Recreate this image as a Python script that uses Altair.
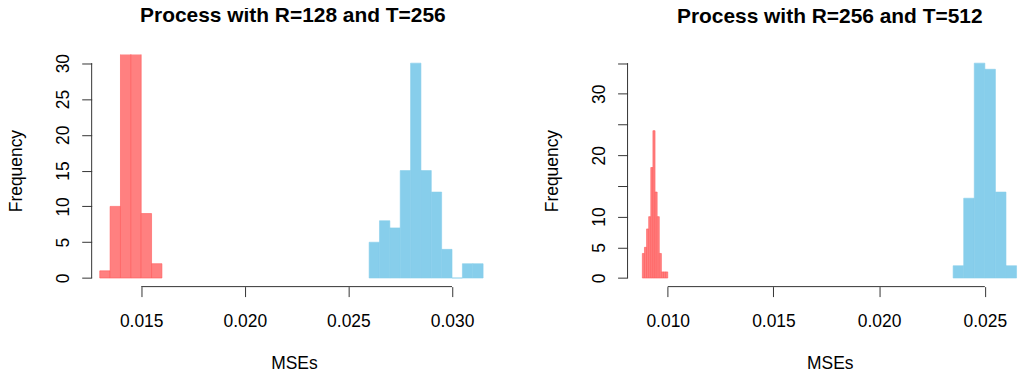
import altair as alt
import pandas as pd

# ---------------- data ----------------
# Panel 1: Process with R=128 and T=256
p1_red_lo = [0.0130, 0.0135, 0.0140, 0.0145, 0.0150, 0.0155]
p1_red_hi = [0.0135, 0.0140, 0.0145, 0.0150, 0.0155, 0.0160]
p1_red_n = [1, 10, 40, 38, 9, 2]
p1_blue_lo = [0.0260, 0.0265, 0.0270, 0.0275, 0.0280, 0.0285, 0.0290, 0.0295, 0.0300, 0.0305, 0.0310]
p1_blue_hi = [0.0265, 0.0270, 0.0275, 0.0280, 0.0285, 0.0290, 0.0295, 0.0300, 0.0305, 0.0310, 0.0315]
p1_blue_n = [5, 8, 7, 15, 30, 15, 12, 4, 0, 2, 2]
p1_xticks = [0.015, 0.020, 0.025, 0.030]
p1_yticks = [0, 5, 10, 15, 20, 25, 30]
p1_yhidden = []

# Panel 2: Process with R=256 and T=512
p2_red_lo = [0.0088, 0.0089, 0.0090, 0.0091, 0.0092, 0.0093, 0.0094, 0.0095, 0.0096, 0.0097, 0.0098, 0.0099]
p2_red_hi = [0.0089, 0.0090, 0.0091, 0.0092, 0.0093, 0.0094, 0.0095, 0.0096, 0.0097, 0.0098, 0.0099, 0.0100]
p2_red_n = [4, 5, 8, 10, 18, 24, 14, 10, 4, 1, 1, 1]
p2_blue_lo = [0.0235, 0.0240, 0.0245, 0.0250, 0.0255, 0.0260]
p2_blue_hi = [0.0240, 0.0245, 0.0250, 0.0255, 0.0260, 0.0265]
p2_blue_n = [2, 13, 35, 34, 14, 2]
p2_xticks = [0.010, 0.015, 0.020, 0.025]
p2_yticks = [0, 5, 10, 15, 20, 25, 30, 35]
p2_yhidden = [15, 25, 35]

FONT = "Liberation Sans"
AXC = "#333333"
RED = "#FF8080"
RED_EDGE = "#FF5A5A"
BLUE = "#87CEEB"


def panel(title, red_lo, red_hi, red_n, blue_lo, blue_hi, blue_n,
          xdom, ydom, xticks, yticks, yhidden, width, height, title_dx):
    df = pd.DataFrame({
        "lo": red_lo + blue_lo,
        "hi": red_hi + blue_hi,
        "n": red_n + blue_n,
        "grp": ["red"] * len(red_lo) + ["blue"] * len(blue_lo),
    })
    xs = alt.Scale(domain=xdom, nice=False, zero=False)
    ys = alt.Scale(domain=ydom, nice=False, zero=False)
    if yhidden:
        cond = " || ".join(f"datum.value == {v}" for v in yhidden)
        lexpr = f"({cond}) ? '' : datum.label"
    else:
        lexpr = "datum.label"
    bars = alt.Chart(df).mark_rect(clip=True, strokeWidth=0.6).encode(
        x=alt.X("lo:Q", scale=xs, axis=alt.Axis(
            values=xticks, format=".3f", domain=False, grid=False,
            tickSize=10, tickColor=AXC, tickWidth=1, labelPadding=16,
            labelFontSize=17.5, labelColor="black", labelFont=FONT,
            title="MSEs", titleFont=FONT, titleFontSize=17.5, titleFontWeight="normal",
            titleColor="black", titleX=203, titleY=82,
            titleBaseline="alphabetic", titleAlign="center")),
        x2="hi:Q",
        y=alt.Y("n:Q", scale=ys, axis=alt.Axis(
            values=yticks, format="d", domain=False, grid=False,
            tickSize=10, tickColor=AXC, tickWidth=1, labelPadding=13,
            labelAngle=-90, labelAlign="center", labelBaseline="alphabetic",
            labelExpr=lexpr, labelFontSize=17.5, labelColor="black", labelFont=FONT,
            labelOverlap=False,
            title="Frequency", titleFont=FONT, titleFontSize=17.5, titleFontWeight="normal",
            titleColor="black", titleX=-70, titleY=height / 2, titleAngle=-90,
            titleBaseline="alphabetic", titleAlign="center")),
        y2=alt.datum(0),
        color=alt.Color("grp:N", scale=alt.Scale(domain=["red", "blue"], range=[RED, BLUE]), legend=None),
        stroke=alt.Stroke("grp:N", scale=alt.Scale(domain=["red", "blue"], range=[RED_EDGE, BLUE]), legend=None),
    )
    xline = alt.Chart(pd.DataFrame({"a": [xticks[0]], "b": [xticks[-1]]})).mark_rule(
        color=AXC, strokeWidth=1).encode(
        x=alt.X("a:Q", scale=xs, axis=None), x2="b:Q", y=alt.value(height))
    yline = alt.Chart(pd.DataFrame({"a": [yticks[0]], "b": [yticks[-1]]})).mark_rule(
        color=AXC, strokeWidth=1).encode(
        y=alt.Y("a:Q", scale=ys, axis=None), y2="b:Q", x=alt.value(0))
    return alt.layer(bars, xline, yline).resolve_axis(
        x="independent", y="independent"
    ).properties(
        width=width, height=height,
        title=alt.TitleParams(title, font=FONT, fontSize=21, fontWeight="bold",
                              color="black", anchor="middle", offset=27.4, dx=title_dx),
    )


H = 233
left = panel("Process with R=128 and T=256", p1_red_lo, p1_red_hi, p1_red_n,
             p1_blue_lo, p1_blue_hi, p1_blue_n,
             [0.01261, 0.03203], [-1.2, 31.2], p1_xticks, p1_yticks, p1_yhidden,
             404, H, 0)
right = panel("Process with R=256 and T=512", p2_red_lo, p2_red_hi, p2_red_n,
              p2_blue_lo, p2_blue_hi, p2_blue_n,
              [0.0081, 0.02671], [-1.4, 36.4], p2_xticks, p2_yticks, p2_yhidden,
              395, H, 5.5)

chart = alt.hconcat(left, right, spacing=50).properties(
    padding={"left": 0, "top": -4, "right": 0, "bottom": 0}
).configure(font=FONT).configure_view(stroke="transparent", strokeWidth=0)

chart.save("out.html", embed_options={"renderer": "svg", "actions": False})
